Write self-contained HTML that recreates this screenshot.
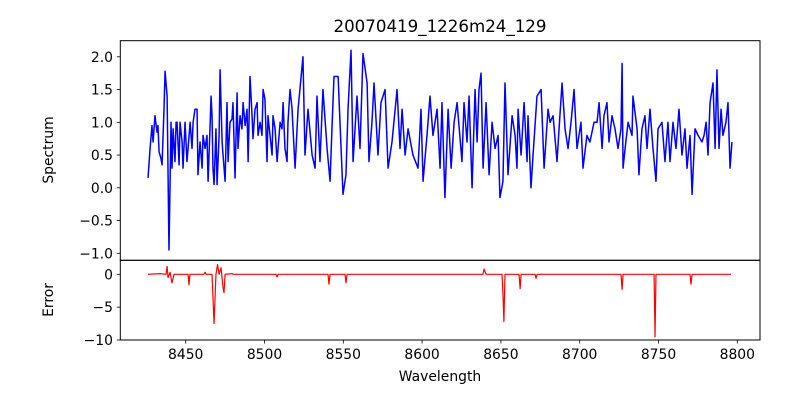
<!DOCTYPE html>
<html><head><meta charset="utf-8"><style>
html,body{margin:0;padding:0;background:#fff;}
svg{display:block;font-family:"DejaVu Sans","Liberation Sans",sans-serif;}
</style></head><body>
<svg id="chart" width="800" height="400" viewBox="0 0 800 400">
<text x="440" y="32" text-anchor="middle" font-size="16.67">20070419_1226m24_129</text>
<text transform="translate(53,150) rotate(-90)" text-anchor="middle" font-size="13.9">Spectrum</text>
<text transform="translate(53,300) rotate(-90)" text-anchor="middle" font-size="13.9">Error</text>
<text x="440" y="381" text-anchor="middle" font-size="13.9">Wavelength</text>
<g id="plots"></g>
</svg>
<script>
const specW = [8426.1,8427.4,8428.6,8429.3,8430.5,8431.8,8432.4,8433.1,8434.3,8435.0,
8436.3,8436.9,8438.2,8439.4,8440.7,8441.3,8442.0,8443.2,8443.9,8444.5,
8445.8,8446.4,8447.7,8448.3,8449.6,8450.8,8451.5,8452.8,8454.0,8454.7,
8455.9,8457.2,8457.8,8459.1,8460.4,8461.0,8462.3,8463.5,8464.2,8465.4,
8466.1,8466.7,8467.3,8468.0,8469.2,8469.9,8471.2,8471.8,8473.1,8473.7,
8475.0,8476.2,8476.9,8478.1,8479.4,8480.0,8481.3,8482.6,8483.2,8484.5,
8485.7,8486.4,8487.7,8488.9,8489.6,8490.8,8492.1,8492.7,8494.0,8495.3,
8495.9,8497.2,8498.4,8499.1,8500.3,8501.6,8502.2,8503.5,8504.8,8505.4,
8506.7,8508.0,8508.6,8509.9,8511.1,8511.8,8513.0,8514.3,8514.9,8516.2,
8517.5,8518.1,8519.4,
8521.3,8524.4,8525.7,8527.6,8530.2,8532.1,8533.3,8535.2,8537.1,8539.7,
8541.6,8542.8,8544.1,8546.7,8547.9,8549.8,8551.7,8553.0,8554.9,8556.2,
8558.7,8560.6,8562.5,8565.1,8566.3,8568.2,8569.5,8572.0,8573.9,8576.5,
8578.4,8580.9,8584.1,8586.0,8587.3,8589.2,8591.1,8594.2,8597.4,8599.3,
8600.6,8603.1,8605.0,8606.9,8609.5,8611.4,8612.6,8614.5,8616.5,8618.4,8620.3,
8622.2,8625.3,8626.6,8628.5,8629.8,8631.7,8633.6,8634.9,8636.1,8637.4,
8638.7,8640.6,8642.5,8644.4,8646.3,8648.2,8649.4,8651.3,8652.6,8654.5,
8657.1,8659.0,8660.2,8660.9,8662.8,8664.7,8666.6,8667.2,8669.1,8670.4,
8672.9,8675.5,8677.4,8679.9,8681.2,8683.1,8685.6,8686.9,8688.8,8690.7,
8692.6,8694.5,8696.4,8698.3,8700.8,8702.1,8704.6,8706.5,8709.1,8711.0,
8712.3,8714.2,8715.4,8717.3,8718.6,
8720.5,8722.4,8724.3,8726.2,8726.9,8727.5,8728.8,8730.7,8733.2,8733.8,
8736.4,8737.6,8739.5,8741.4,8742.7,8744.6,8746.5,8748.4,8749.7,8752.2,
8754.1,8756.0,8757.3,8759.2,8761.1,8763.0,8764.9,8766.8,8768.1,8770.0,
8771.3,8773.2,8775.1,8777.6,8778.9,8780.2,8781.4,8782.7,8784.6,8785.9,
8787.1,8788.4,8789.7,8790.9,8792.8,8794.1,8795.4,8796.6];
const specV = [0.15,0.6,0.95,0.7,1.1,0.85,0.95,0.55,0.45,0.35,
1.25,1.78,1.4,-0.95,1.0,0.3,0.9,0.4,1.0,1.0,
0.35,1.0,0.7,0.3,1.0,0.4,0.6,1.0,0.6,1.0,
1.2,1.2,0.2,0.7,0.3,0.8,0.6,0.8,0.1,0.9,
1.4,1.1,0.3,0.05,0.9,0.05,0.8,1.8,0.7,0.5,
0.1,1.3,0.4,1.0,1.05,1.3,0.15,1.45,0.6,1.1,
0.9,1.3,0.95,1.2,0.4,1.7,1.1,0.75,1.2,1.3,
0.8,1.0,0.8,1.5,1.35,0.4,1.1,0.8,0.5,1.1,
0.9,0.4,0.6,1.0,0.9,1.3,0.6,0.4,1.0,1.5,
1.2,0.9,0.3,
1.2,2.0,0.5,1.2,0.5,0.3,1.4,0.4,1.5,0.6,
0.1,0.9,1.7,1.7,1.0,-0.1,0.2,1.2,2.1,0.4,
1.4,0.6,2.05,1.6,0.4,1.0,1.6,0.5,1.3,1.5,
0.3,0.7,1.5,0.6,1.2,0.5,0.9,0.5,0.3,1.2,
0.1,0.8,1.4,0.8,1.2,0.3,1.3,-0.15,1.2,0.3,1.0,
1.3,0.4,1.3,0.7,1.4,0.0,1.5,0.7,1.5,1.75,
0.3,1.3,0.2,1.0,0.6,0.8,-0.15,0.1,1.6,0.2,
1.1,0.8,0.3,1.2,0.5,1.3,0.4,1.1,0.0,0.5,
1.4,1.5,0.3,1.2,1.0,1.1,0.4,0.9,1.6,0.9,
0.6,1.0,1.5,0.6,1.0,0.3,0.8,0.7,1.0,1.0,
1.3,0.6,1.1,1.3,0.7,
1.1,0.9,0.6,0.9,1.9,0.3,0.6,1.0,0.8,1.4,
0.9,0.2,0.9,1.1,0.6,1.2,0.6,0.1,0.9,1.0,
0.4,1.0,0.4,1.0,0.6,1.2,0.5,0.9,0.3,0.8,
-0.1,0.9,0.8,0.7,0.8,1.0,0.5,1.3,1.6,0.6,
1.8,0.6,1.2,0.8,1.0,1.3,0.3,0.7];
const errW = [8426.1,8433.7,8437.5,8438.2,8438.8,8440.1,8441.3,8442.6,8451.5,8452.1,8452.7,
8461.5,8462.3,8463.0,8466.7,8468.0,8469.2,8470.2,8471.2,8472.4,8473.7,8474.3,8475.0,8479.4,8480.0,
8507.3,8508.0,8508.6,8540.3,8540.9,8541.6,8551.1,8551.7,8552.4,8638.6,8639.3,8640.6,
8650.7,8651.3,8651.9,8652.6,8661.5,8662.2,8662.8,8671.7,8672.3,8673.0,
8726.2,8726.9,8727.5,8747.2,8747.8,8748.4,8770.0,8770.6,8771.3,8796.0];
const errV = [0,0.1,0,1.2,-0.5,0.3,-1.3,0,0,-1.6,0,
0,0.3,0,0,-7.5,0,1.5,0,1.0,-2.0,-2.8,0,0.1,0,
0,-0.4,0,0,-1.5,0,0,-1.3,0,0,0.8,0,
0,-3.0,-7.2,0,0,-2.2,0,0,-0.6,0,
0,-2.3,0,0,-9.5,0,0,-1.5,0,0];
const xTicks = [8450,8500,8550,8600,8650,8700,8750,8800];
const specTicks = [2.0,1.5,1.0,0.5,0.0,-0.5,-1.0];
const specTickLabels = ["2.0","1.5","1.0","0.5","0.0","\u22120.5","\u22121.0"];
const errTicks = [0,-5,-10];
const errTickLabels = ["0","\u22125","\u221210"];

const NS = "http://www.w3.org/2000/svg";
const g = document.getElementById('plots');
function xs(w){return 185.7+(w-8450)*1.576;}
function ys(v){return 187.8-v*65.5;}
function ye(v){return 274.3-v*6.57;}
function mk(tag,attrs){const e=document.createElementNS(NS,tag);for(const k in attrs)e.setAttribute(k,attrs[k]);g.appendChild(e);return e;}

let d='';
specW.forEach((w,i)=>{d+=(i?'L':'M')+xs(w).toFixed(2)+' '+ys(specV[i]).toFixed(2);});
const sp=mk('path',{d:d,fill:'none',stroke:'#0000ff','stroke-width':1.5,'stroke-linejoin':'round'});


let d2='';
errW.forEach((w,i)=>{d2+=(i?'L':'M')+xs(w).toFixed(2)+' '+ye(errV[i]).toFixed(2);});
const ep=mk('path',{d:d2,fill:'none',stroke:'#ff0000','stroke-width':1.2,'stroke-linejoin':'round'});



const f1=mk('rect',{x:120.3,y:40.7,width:639.7,height:219.6,fill:'none',stroke:'#000','stroke-width':1});


const f2=mk('rect',{x:120.3,y:260.3,width:639.7,height:79.7,fill:'none',stroke:'#000','stroke-width':1});



specTicks.forEach((v,i)=>{
  const y=ys(v);
  const t=mk('line',{x1:116.8,x2:120.3,y1:y,y2:y,stroke:'#000','stroke-width':0.8});
  
  
  const l=mk('text',{x:113,y:y+5,'text-anchor':'end','font-size':13.9});
  l.textContent=specTickLabels[i];
  
  
});
errTicks.forEach((v,i)=>{
  const y=ye(v);
  const t=mk('line',{x1:116.8,x2:120.3,y1:y,y2:y,stroke:'#000','stroke-width':0.8});
  
  
  const l=mk('text',{x:113,y:y+5,'text-anchor':'end','font-size':13.9});
  l.textContent=errTickLabels[i];
  
  
});
xTicks.forEach(w=>{
  const x=xs(w);
  const t=mk('line',{x1:x,x2:x,y1:340,y2:343.5,stroke:'#000','stroke-width':0.8});
  
  
  const l=mk('text',{x:x,y:359,'text-anchor':'middle','font-size':13.9});
  l.textContent=String(w);
  
  
});
</script>
</body></html>
